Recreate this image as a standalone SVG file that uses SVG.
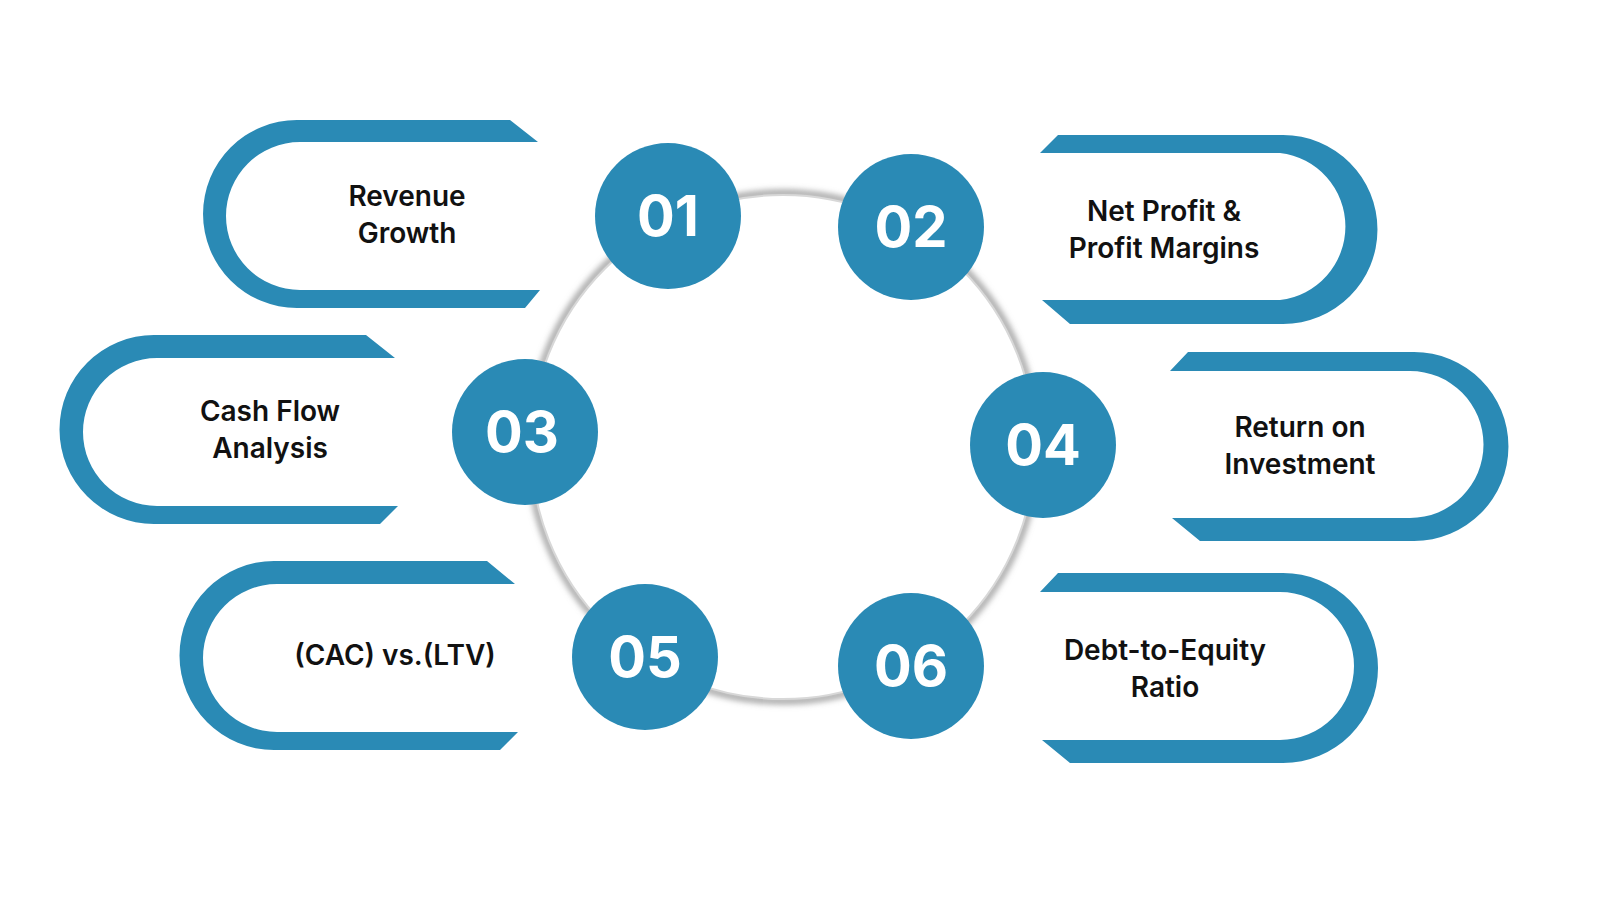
<svg xmlns="http://www.w3.org/2000/svg" width="1600" height="900" viewBox="0 0 1600 900">
<defs>
<style>
.b{fill:#2a8ab5}
.c{fill:#2a8ab5}
.n{font-family:Inter,"Liberation Sans",sans-serif;font-weight:700;font-size:56px;fill:#fff;text-anchor:middle}
.t{font-family:Inter,"Liberation Sans",sans-serif;font-weight:600;font-size:28px;fill:#111;text-anchor:middle}
</style>
<filter id="sh" x="-20%" y="-20%" width="140%" height="140%"><feGaussianBlur stdDeviation="3"/></filter>
</defs>
<rect width="1600" height="900" fill="#fff"/>
<g id="ring">
<circle cx="783" cy="447" r="254" fill="none" stroke="#999" stroke-width="6" filter="url(#sh)"/>
<circle cx="783" cy="447" r="252" fill="#fff" stroke="#d8d8d8" stroke-width="2"/>
</g>
<g id="node1"><path class="b" d="M510 120 L538 142 L300 142 A74 74 0 0 0 300 290 L540 290 L525 308 L297 308 A94 94 0 0 1 297 120 Z"/>
<text class="t" x="407" y="206">Revenue</text><text class="t" x="407" y="243">Growth</text></g>
<g id="node3"><path class="b" d="M366 335 L395 358 L157 358 A74 74 0 0 0 157 506 L398 506 L380 524 L154 524 A94.5 94.5 0 0 1 154 335 Z"/>
<text class="t" x="270" y="421">Cash Flow</text><text class="t" x="270" y="458">Analysis</text></g>
<g id="node5"><path class="b" d="M487 561 L515 584 L277 584 A74 74 0 0 0 277 732 L518 732 L500 750 L274 750 A94.5 94.5 0 0 1 274 561 Z"/>
<text class="t" x="395" y="665">(CAC) vs.(LTV)</text></g>
<g id="node2"><path class="b" d="M1058 135 L1040 153 L1280 153 A74 74 0 0 1 1280 300 L1042 300 L1070 324 L1283 324 A94.5 94.5 0 0 0 1283 135 Z"/>
<text class="t" x="1164" y="221">Net Profit &amp;</text><text class="t" x="1164" y="258">Profit Margins</text></g>
<g id="node4"><path class="b" d="M1188 352 L1170 371 L1410 371 A73.5 73.5 0 0 1 1410 518 L1172 518 L1200 541 L1414 541 A94.5 94.5 0 0 0 1414 352 Z"/>
<text class="t" x="1300" y="437">Return on</text><text class="t" x="1300" y="474">Investment</text></g>
<g id="node6"><path class="b" d="M1058 573 L1040 592 L1280 592 A74 74 0 0 1 1280 740 L1042 740 L1070 763 L1283 763 A95 95 0 0 0 1283 573 Z"/>
<text class="t" x="1165" y="660">Debt-to-Equity</text><text class="t" x="1165" y="697">Ratio</text></g>
<g id="circles">
<g id="c01"><circle class="c" cx="668" cy="216" r="73"/><text class="n" x="668" y="236">01</text></g>
<g id="c02"><circle class="c" cx="911" cy="227" r="73"/><text class="n" x="911" y="247">02</text></g>
<g id="c03"><circle class="c" cx="525" cy="432" r="73"/><text class="n" x="522" y="452">03</text></g>
<g id="c04"><circle class="c" cx="1043" cy="445" r="73"/><text class="n" x="1043" y="465">04</text></g>
<g id="c05"><circle class="c" cx="645" cy="657" r="73"/><text class="n" x="645" y="677">05</text></g>
<g id="c06"><circle class="c" cx="911" cy="666" r="73"/><text class="n" x="911" y="686">06</text></g>
</g>
<g id="connectors"></g>
</svg>
